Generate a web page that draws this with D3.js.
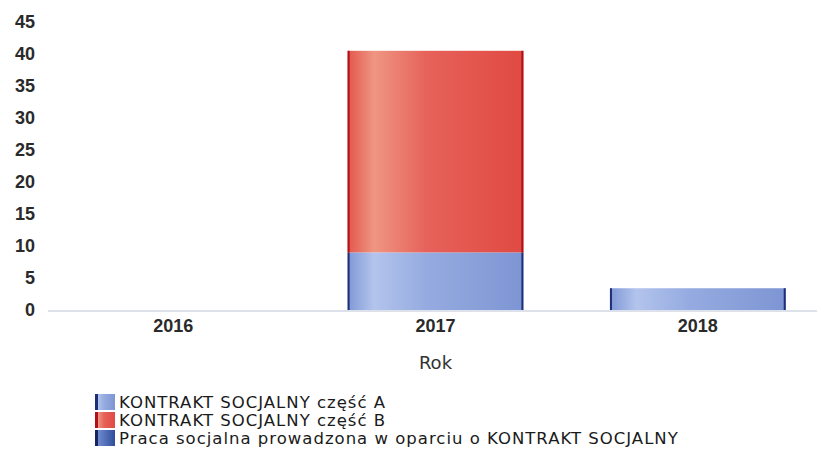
<!DOCTYPE html>
<meta charset="utf-8">
<script src="https://d3js.org/d3.v7.min.js"></script>
<style>
  body { margin: 0; background: #fff; }
</style>
<div id="chart"></div>
<script>
  // data
  var years = ["2016", "2017", "2018"];
  var seriesNames = ["KONTRAKT SOCJALNY część A", "KONTRAKT SOCJALNY część B",
    "Praca socjalna prowadzona w oparciu o KONTRAKT SOCJALNY"];
  var partA = [0, 9, 3.4];
  var partB = [0, 31.5, 0];
  var praca = [0, 0, 0];
  var yTicks = [0, 5, 10, 15, 20, 25, 30, 35, 40, 45];

  var width = 817, height = 464;
  var svg = d3.select("#chart").append("svg")
    .attr("width", width)
    .attr("height", height);

  // gradients to imitate the shaded bars
  var defs = svg.append("defs");
  function grad(id, stops) {
    var g = defs.append("linearGradient").attr("id", id)
      .attr("x1", "0%").attr("x2", "100%").attr("y1", "0%").attr("y2", "0%");
    stops.forEach(function (s) {
      g.append("stop").attr("offset", s[0]).attr("stop-color", s[1]);
    });
  }
  grad("gA", [["0%", "#7f98d6"], ["15%", "#b3c4ec"], ["45%", "#95abe0"], ["100%", "#7d95d3"]]);
  grad("gB", [["0%", "#e2564c"], ["15%", "#ef9682"], ["45%", "#e6625a"], ["100%", "#e04a42"]]);
  grad("gC", [["0%", "#3a5aa8"], ["15%", "#6f8ad0"], ["100%", "#2f4d9a"]]);
  var fills = ["url(#gA)", "url(#gB)", "url(#gC)"];
  var edges = ["#1e2f78", "#b0101a", "#14245e"];

  var x = d3.scaleBand()
    .domain(years)
    .range([42, 829])
    .paddingInner(0.33)
    .paddingOuter(0.165);

  var y = d3.scaleLinear()
    .domain([0, 45])
    .range([310, 22]);

  var table = years.map(function (yr, i) {
    return { year: yr, a: partA[i], b: partB[i], c: praca[i] };
  });
  var stack = d3.stack().keys(["a", "b", "c"]);
  var layers = stack(table);

  // y axis labels (no line, no ticks)
  var yAxis = svg.append("g")
    .attr("transform", "translate(36,0)")
    .call(d3.axisLeft(y).tickValues(yTicks).tickSize(0).tickPadding(1));
  yAxis.select(".domain").remove();
  yAxis.selectAll("text")
    .style("font-family", "Liberation Sans, Arial, sans-serif")
    .style("font-size", "18px")
    .style("font-weight", "bold")
    .attr("fill", "#2a2a2a");

  // baseline
  svg.append("line")
    .attr("x1", 48).attr("x2", 817)
    .attr("y1", y(0) + 1).attr("y2", y(0) + 1)
    .attr("stroke", "#b9c3d6")
    .attr("stroke-width", 1);

  // bars
  layers.forEach(function (layer, k) {
    var g = svg.append("g");
    var bars = layer.filter(function (d) { return d[1] - d[0] > 0; });
    g.selectAll("rect.bar")
      .data(bars)
      .enter().append("rect")
      .attr("x", function (d) { return x(d.data.year); })
      .attr("y", function (d) { return y(d[1]); })
      .attr("width", x.bandwidth())
      .attr("height", function (d) { return y(d[0]) - y(d[1]); })
      .attr("fill", fills[k]);
    // dark side edges
    g.selectAll("rect.edgeL")
      .data(bars)
      .enter().append("rect")
      .attr("x", function (d) { return x(d.data.year); })
      .attr("y", function (d) { return y(d[1]); })
      .attr("width", 2)
      .attr("height", function (d) { return y(d[0]) - y(d[1]); })
      .attr("fill", edges[k]);
    g.selectAll("rect.edgeR")
      .data(bars)
      .enter().append("rect")
      .attr("x", function (d) { return x(d.data.year) + x.bandwidth() - 2; })
      .attr("y", function (d) { return y(d[1]); })
      .attr("width", 2)
      .attr("height", function (d) { return y(d[0]) - y(d[1]); })
      .attr("fill", edges[k]);
  });

  // x axis labels
  var xAxis = svg.append("g")
    .attr("transform", "translate(0," + (y(0) + 6) + ")")
    .call(d3.axisBottom(x).tickSize(0).tickPadding(3));
  xAxis.select(".domain").remove();
  xAxis.selectAll("text")
    .style("font-family", "Liberation Sans, Arial, sans-serif")
    .style("font-size", "18px")
    .style("font-weight", "bold")
    .attr("fill", "#2a2a2a");

  // x axis title
  svg.append("text")
    .attr("x", x("2017") + x.bandwidth() / 2)
    .attr("y", 369)
    .attr("text-anchor", "middle")
    .style("font-family", "DejaVu Sans, sans-serif")
    .style("font-size", "18px")
    .attr("fill", "#333")
    .text("Rok");

  // legend
  var legendTop = 394;
  var legend = svg.append("g");
  seriesNames.forEach(function (name, i) {
    var row = legend.append("g")
      .attr("transform", "translate(0," + (legendTop + i * 18) + ")");
    row.append("rect")
      .attr("x", 95).attr("y", 0)
      .attr("width", 20).attr("height", 16)
      .attr("fill", fills[i]);
    row.append("rect")
      .attr("x", 95).attr("y", 0)
      .attr("width", 3).attr("height", 16)
      .attr("fill", edges[i]);
    row.append("text")
      .attr("x", 119).attr("y", 8)
      .attr("dominant-baseline", "central")
      .style("font-family", "DejaVu Sans, sans-serif")
      .style("font-size", "16.5px")
      .style("letter-spacing", "1px")
      .attr("fill", "#1a1a1a")
      .text(name);
  });
</script>
